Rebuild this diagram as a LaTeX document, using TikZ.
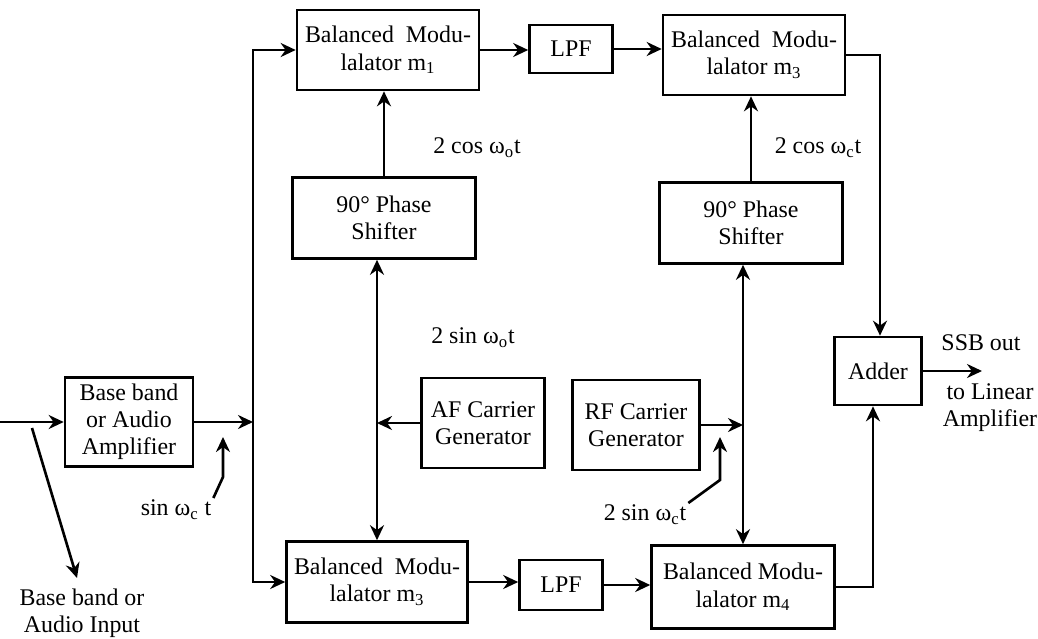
\documentclass[tikz,border=0pt]{standalone}
\usepackage{fontspec}
\setmainfont{Liberation Serif}
\usetikzlibrary{arrows.meta,positioning}

\begin{document}
\begin{tikzpicture}[x=0.02cm, y=-0.02cm,
  box/.style={draw, line width=1.5pt, align=center, inner sep=1pt, font=\fontsize{13.6}{15.5}\selectfont},
  lbl/.style={align=center, inner sep=1pt, font=\fontsize{13.6}{15.5}\selectfont},
  sig/.style={line width=1.5pt, -{Stealth[length=3mm,width=2.8mm]}},
  sigb/.style={line width=1.5pt, {Stealth[length=3mm,width=2.8mm]}-{Stealth[length=3mm,width=2.8mm]}}]
  \useasboundingbox (0,0) rectangle (1038,639);

  % upper path
  \node[box, minimum width=3.64cm, minimum height=1.6cm] (bmA) at (388,50) {Balanced\ \ Modu-\\lalator m\textsubscript{1}};
  \node[box, minimum width=1.66cm, minimum height=0.96cm] (lpfA) at (571,49) {LPF};
  \node[box, minimum width=3.64cm, minimum height=1.6cm] (bmC) at (754,55) {Balanced\ \ Modu-\\lalator m\textsubscript{3}};
  \node[box, minimum width=3.66cm, minimum height=1.62cm] (psA) at (384,218) {90° Phase\\Shifter};
  \node[box, minimum width=3.66cm, minimum height=1.62cm] (psB) at (751,223) {90° Phase\\Shifter};

  % middle row
  \node[box, minimum width=2.56cm, minimum height=1.78cm] (amp) at (129,422) {Base band\\or Audio\\Amplifier};
  \node[box, minimum width=2.46cm, minimum height=1.8cm] (afgen) at (483,423) {AF Carrier\\Generator};
  \node[box, minimum width=2.54cm, minimum height=1.8cm] (rfgen) at (636,425) {RF Carrier\\Generator};
  \node[box, minimum width=1.74cm, minimum height=1.36cm] (adder) at (878,371) {Adder};

  % lower path
  \node[box, minimum width=3.62cm, minimum height=1.62cm] (bmB) at (377,582) {Balanced\ \ Modu-\\lalator m\textsubscript{3}};
  \node[box, minimum width=1.66cm, minimum height=1.0cm] (lpfB) at (561,585) {LPF};
  \node[box, minimum width=3.66cm, minimum height=1.66cm] (bmD) at (743,587) {Balanced Modu-\\lalator m\textsubscript{4}};

  % labels
  \node[lbl] (cosA) at (477,148) {2 cos ω\textsubscript{o}t};
  \node[lbl] (sinA) at (473,338) {2 sin ω\textsubscript{o}t};
  \node[lbl] (cosB) at (818,148) {2 cos ω\textsubscript{c}t};
  \node[lbl] (sinB) at (645,515) {2 sin ω\textsubscript{c}t};
  \node[lbl] (sinC) at (176,510) {sin ω\textsubscript{c} t};
  \node[lbl] (inlbl) at (82,613) {Base band or\\Audio Input};
  \node[lbl] (ssb) at (981,343) {SSB out};
  \node[lbl] (tolin) at (990,408) {to Linear\\Amplifier};

  \coordinate (in) at (0,422);
  \coordinate (inTap) at (32,428);
  \coordinate (inEnd) at (77,578);
  \coordinate (split) at (253,422);
  \coordinate (sinBend) at (223,477);
  \coordinate (sinTip) at (223,437);
  \coordinate (rfBend) at (720,480);
  \coordinate (rfTip) at (720,437);
  \coordinate (out) at (982,371);

  % connectors
  \draw[sig] (in) -- (amp.west);
  \draw[sig] (inTap) -- (inEnd);
  \draw[sig] (amp.east) -- (split);
  \draw[sig] (split) |- (bmA.west);
  \draw[sig] (split) |- (bmB.west);
  \draw[sig] (sinC.north east) -- (sinBend) -- (sinTip);
  \draw[sig] (bmA.east) -- (bmA.east -| lpfA.west);
  \draw[sig] (lpfA.east) -- (lpfA.east -| bmC.west);
  \draw[sig] (psA.north) -- (psA.north |- bmA.south);
  \draw[sig] (psB.north) -- (psB.north |- bmC.south);
  \draw[sigb] (bmB.north) -- (bmB.north |- psA.south);
  \draw[sigb] (bmD.north) -- (bmD.north |- psB.south);
  \draw[sig] (afgen.west) -- (afgen.west -| bmB.north);
  \draw[sig] (rfgen.east) -- (rfgen.east -| bmD.north);
  \draw[sig] (sinB.north east) -- (rfBend) -- (rfTip);
  \draw[sig] (bmB.east) -- (bmB.east -| lpfB.west);
  \draw[sig] (lpfB.east) -- (lpfB.east -| bmD.west);
  \draw[sig] (bmC.east) -| ([xshift=0.04cm]adder.north);
  \draw[sig] (bmD.east) -| ([xshift=-0.1cm]adder.south);
  \draw[sig] (adder.east) -- (out);
\end{tikzpicture}
\end{document}
